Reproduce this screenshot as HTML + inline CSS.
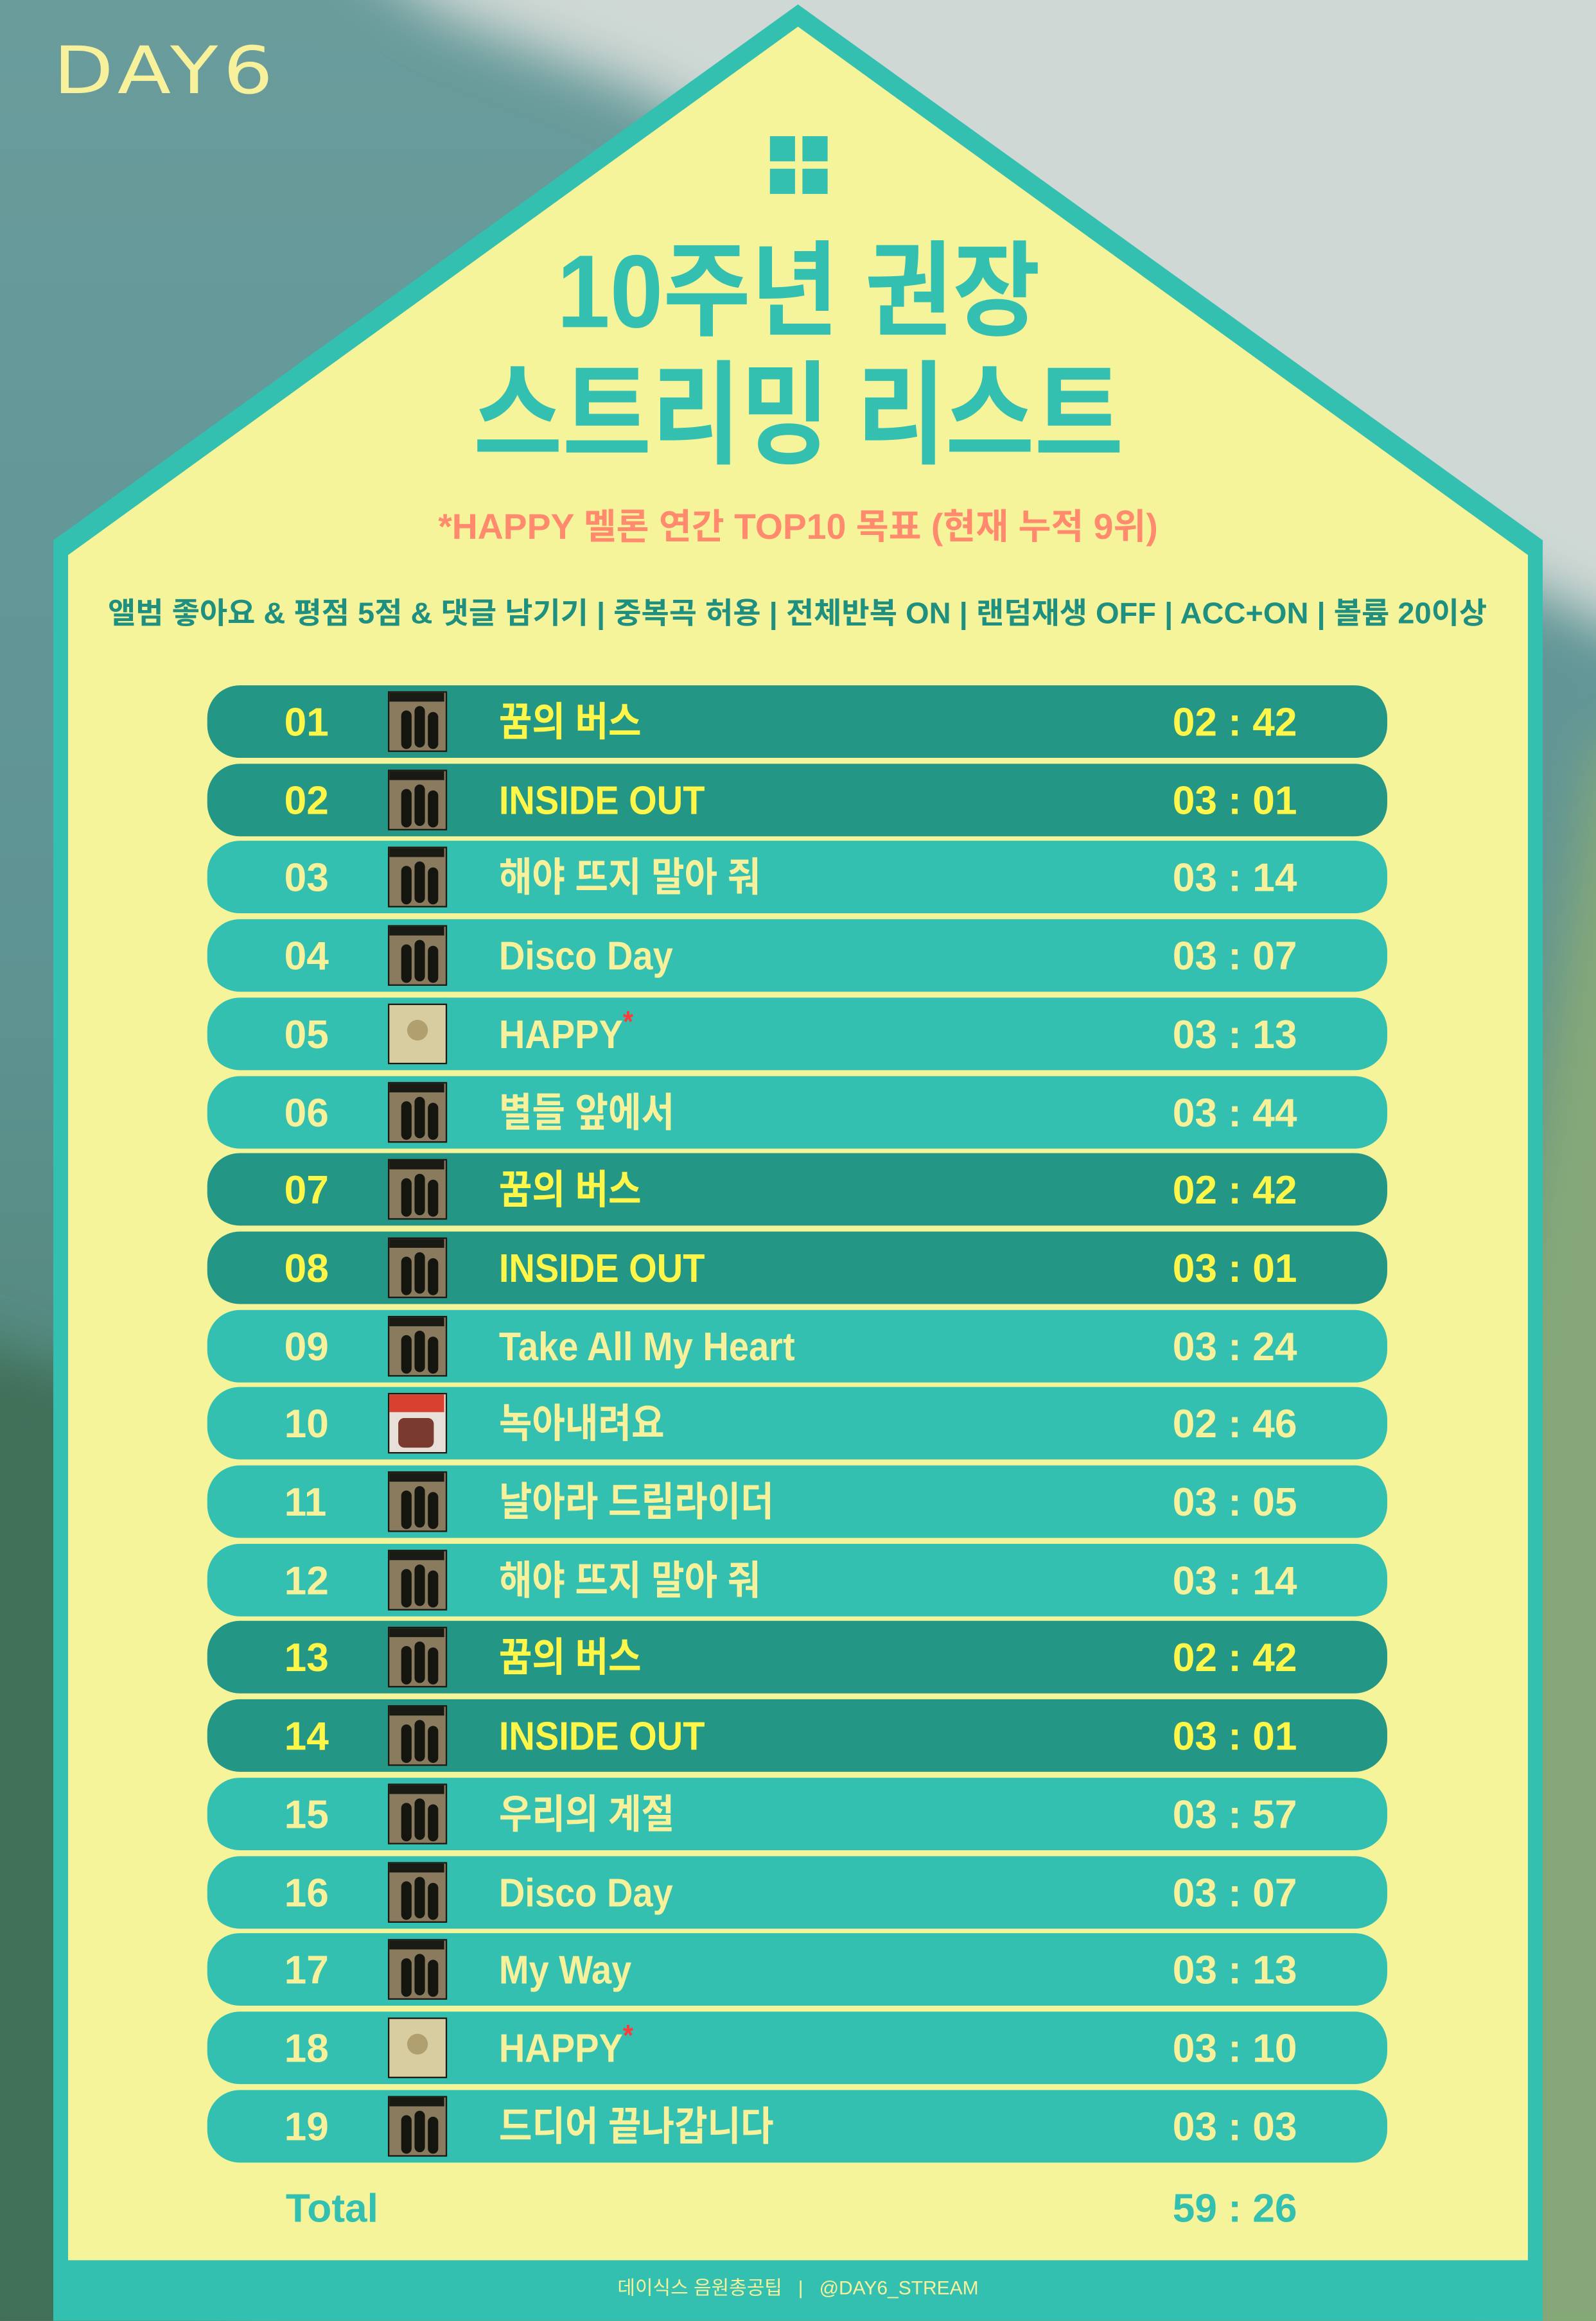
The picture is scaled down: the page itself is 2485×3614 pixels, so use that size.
<!DOCTYPE html>
<html><head><meta charset="utf-8">
<style>
html,body{margin:0;padding:0;}
body{width:2485px;height:3614px;overflow:hidden;position:relative;}
#stage{position:absolute;left:0;top:0;width:1078px;height:1568px;transform:scale(2.3052,2.3048);transform-origin:0 0;overflow:hidden;
font-family:"Liberation Sans Narrow","Liberation Sans","Noto Sans CJK KR",sans-serif;
background:linear-gradient(180deg,#6a9c9c 0%,#5f9494 40%,#4f8474 70%,#5a8a5e 100%);}
.abs{position:absolute;}
.sx{display:inline-block;transform:scaleX(0.86);transform-origin:center;}
.row{position:absolute;left:140px;width:797px;height:49px;border-radius:22px;}
.row span{position:absolute;top:0;line-height:50px;font-weight:bold;font-size:27px;white-space:nowrap;}
.num{left:52px;}
.ttl{left:197px;transform:scaleX(0.9);transform-origin:left center;}
.tm{left:652px;}
.art{position:absolute;left:122px;top:4px;width:40px;height:41px;box-sizing:border-box;border:1.5px solid #1a1a14;background:#8a7a5e;overflow:hidden;}
.art i{position:absolute;background:#151510;border-radius:4px;}
.star{color:#ff3a3a;font-size:20px;vertical-align:top;position:relative;top:-8px;}
</style></head>
<body>
<div id="stage">
<svg class="abs" style="left:0;top:0" width="1078" height="1568">
<defs><filter id="bl"><feGaussianBlur stdDeviation="18"/></filter></defs>
<g filter="url(#bl)">
<polygon points="230,-40 1120,-40 1120,440 1000,380 900,320 780,260 680,210 560,130 430,60 300,10" fill="#cfd8d4"/>
<polygon points="1078,500 1120,500 1120,1600 1000,1600 980,1100" fill="#86a878"/>
<polygon points="-40,900 120,950 160,1600 -40,1600" fill="#3f7058"/>
</g>
</svg>
<svg class="abs" style="left:0;top:0" width="1078" height="1568">
<polygon points="36,365 539,3 1042,365 1042,1568 36,1568" fill="#33c0b0"/>
<polygon points="46,375 539,18 1032,375 1032,1527 46,1527" fill="#f6f49a"/>
</svg>
<div class="abs" style="left:36px;top:22px;font-family:'DejaVu Sans','Liberation Sans',sans-serif;font-size:44px;color:#f6f19a;letter-spacing:3px;line-height:54px;transform:scaleX(1.2);transform-origin:left center;">DAY6</div>
<svg class="abs" style="left:520px;top:92px" width="40" height="40">
<rect x="0" y="0" width="17" height="17" fill="#33c0b0"/><rect x="22" y="0" width="17" height="17" fill="#33c0b0"/>
<rect x="0" y="22" width="17" height="17" fill="#33c0b0"/><rect x="22" y="22" width="17" height="17" fill="#33c0b0"/>
</svg>
<div class="abs" style="left:0;width:1078px;top:155px;text-align:center;font-size:70px;font-weight:bold;color:#33c0b0;line-height:84px;"><span class="sx" style="transform:scaleX(0.92)">10주년 권장</span></div>
<div class="abs" style="left:0;width:1078px;top:238px;text-align:center;font-size:76px;font-weight:bold;color:#33c0b0;line-height:88px;"><span class="sx">스트리밍 리스트</span></div>
<div class="abs" style="left:0;width:1078px;top:340px;text-align:center;font-size:24px;font-weight:bold;color:#ff8a6e;line-height:34px;">*HAPPY 멜론 연간 TOP10 목표 (현재 누적 9위)</div>
<div class="abs" style="left:0;width:1078px;top:400px;text-align:center;font-size:20px;font-weight:bold;color:#1f8f80;line-height:30px;"><span class="sx" style="transform:scaleX(1.02)">앨범 좋아요 &amp; 평점 5점 &amp; 댓글 남기기 | 중복곡 허용 | 전체반복 ON | 랜덤재생 OFF | ACC+ON | 볼륨 20이상</span></div>
<div id="rows"></div>
<div class="abs" style="left:193px;top:1475px;font-size:27px;font-weight:bold;color:#33c0b0;line-height:34px;">Total</div>
<div class="abs" style="left:792px;top:1475px;font-size:27px;font-weight:bold;color:#33c0b0;line-height:34px;">59 : 26</div>
<div class="abs" style="left:0;width:1078px;top:1537px;text-align:center;font-size:13px;color:#f6f19a;line-height:18px;">데이식스 음원총공팁 &nbsp; | &nbsp; @DAY6_STREAM</div>
</div>
<script>
const trackNumbers=["01","02","03","04","05","06","07","08","09","10","11","12","13","14","15","16","17","18","19"];
const trackTitles=["꿈의 버스","INSIDE OUT","해야 뜨지 말아 줘","Disco Day","HAPPY","별들 앞에서","꿈의 버스","INSIDE OUT","Take All My Heart","녹아내려요","날아라 드림라이더","해야 뜨지 말아 줘","꿈의 버스","INSIDE OUT","우리의 계절","Disco Day","My Way","HAPPY","드디어 끝나갑니다"];
const trackTimes=["02 : 42","03 : 01","03 : 14","03 : 07","03 : 13","03 : 44","02 : 42","03 : 01","03 : 24","02 : 46","03 : 05","03 : 14","02 : 42","03 : 01","03 : 57","03 : 07","03 : 13","03 : 10","03 : 03"];
const trackHighlighted=[1,1,0,0,0,0,1,1,0,0,0,0,1,1,0,0,0,0,0];
const trackAlbum=["d","d","d","d","f","d","d","d","d","b","d","d","d","d","d","d","d","f","d"];
const trackStar=[0,0,0,0,1,0,0,0,0,0,0,0,0,0,0,0,0,1,0];
const container=document.getElementById('rows');
const top0=463,pitch=52.7;
trackNumbers.forEach((n,i)=>{
  const r=document.createElement('div');
  
  
  r.className='row';
  r.style.top=(top0+pitch*i)+'px';
  const hl=trackHighlighted[i];
  r.style.background=hl?'#249685':'#33c0b0';
  const col=hl?'#fff64a':'#f6f19a';
  const a=document.createElement('span');a.className='num';a.textContent=n;a.style.color=col;
  
  
  r.appendChild(a);
  const art=document.createElement('div');art.className='art';
  
  
  if(trackAlbum[i]==='f'){art.style.background='#d8cda0';art.innerHTML='<i style="left:12px;top:10px;width:14px;height:14px;border-radius:50%;background:#b0a070"></i>';}
  else if(trackAlbum[i]==='b'){art.style.background='#e8e0d8';art.innerHTML='<i style="left:0;top:0;width:37px;height:12px;border-radius:0;background:#d8402f"></i><i style="left:6px;top:16px;width:24px;height:20px;background:#7a3a30"></i>';}
  else{art.innerHTML='<i style="left:0;top:0;width:37px;height:6px;border-radius:0;background:#1a1a14"></i><i style="left:8px;top:12px;width:7px;height:26px"></i><i style="left:17px;top:9px;width:7px;height:28px"></i><i style="left:26px;top:13px;width:7px;height:25px"></i>';}
  r.appendChild(art);
  const t=document.createElement('span');t.className='ttl';t.style.color=col;
  
  
  t.textContent=trackTitles[i];
  if(trackStar[i]){const s=document.createElement('b');s.className='star';s.textContent='*';t.appendChild(s);}
  r.appendChild(t);
  const m=document.createElement('span');m.className='tm';m.textContent=trackTimes[i];m.style.color=col;
  
  
  r.appendChild(m);
  container.appendChild(r);
});
</script>
</body></html>
